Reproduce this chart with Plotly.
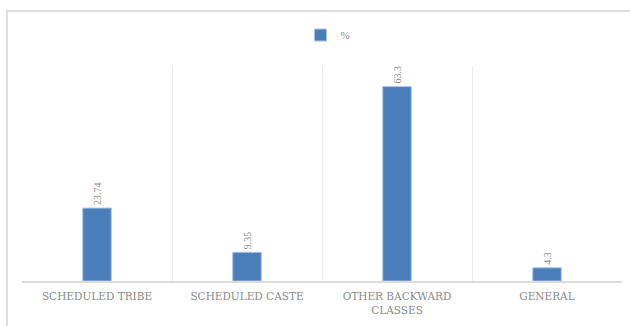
import plotly.graph_objects as go

categories = ["SCHEDULED TRIBE", "SCHEDULED CASTE", "OTHER BACKWARD<br>CLASSES", "GENERAL"]
values = [23.74, 9.35, 63.3, 4.3]
labels = ["23.74", "9.35", "63.3", "4.3"]
series_name = "%"

fig = go.Figure()
fig.add_trace(go.Bar(
    x=categories, y=values, name=series_name,
    text=labels, textposition="outside", textangle=-90,
    textfont=dict(family="Liberation Serif", size=10, color="#8a8a8a"),
    marker=dict(color="#4a7ebb", line=dict(color="#a9c3e3", width=1)),
    width=0.19, cliponaxis=False,
))

fig.update_layout(
    width=630, height=326,
    margin=dict(l=22, r=8, t=66, b=45),
    paper_bgcolor="white", plot_bgcolor="white",
    showlegend=True,
    legend=dict(orientation="h", x=0.51, xanchor="center", y=1.144, yanchor="middle",
                font=dict(family="Liberation Serif", size=11, color="#8a8a8a"),
                itemwidth=30),
    xaxis=dict(type="category", tickson="boundaries", showgrid=True, gridcolor="#ececec",
               gridwidth=1.2, showline=True, linecolor="#dcdcdc", linewidth=1.5,
               ticks="", ticklabelstandoff=5,
               tickfont=dict(family="DejaVu Serif", size=10.5, color="#8a8a8a")),
    yaxis=dict(range=[0, 70], showgrid=False, zeroline=False, showticklabels=False,
               showline=False),
    shapes=[dict(type="rect", xref="paper", yref="paper", x0=-0.025, x1=1.03,
                 y0=-0.25, y1=1.256, line=dict(color="#dedede", width=2))],
)

fig.write_html("out.html")
